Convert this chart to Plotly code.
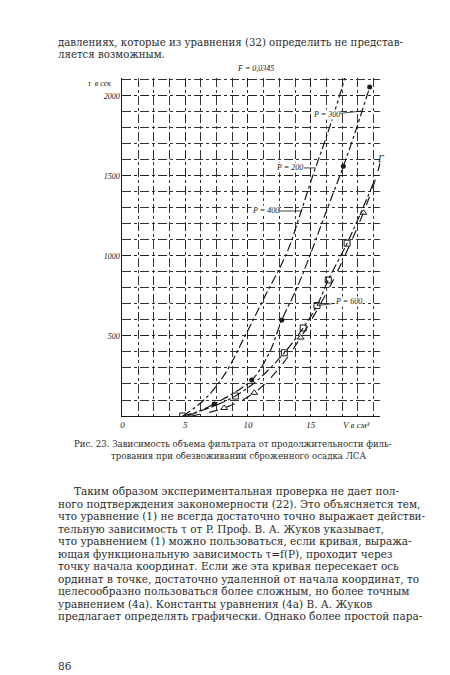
import plotly.graph_objects as go

W, H = 450, 675

# ---- data ----
A_V = [4.8, 6.5, 8.1, 9.7, 11.3, 13.1, 14.2, 15.2, 16.1, 17.0, 17.9]
A_t = [0, 100, 255, 490, 740, 1020, 1270, 1510, 1710, 1925, 2160]

B_V = [5.2, 7.3, 10.3, 11.7, 12.7, 13.9, 14.8, 16.2, 17.6, 18.7, 19.7]
B_t = [0, 75, 225, 395, 600, 800, 975, 1270, 1560, 1810, 2055]
B_mV = [7.3, 10.3, 12.7, 17.6, 19.7]
B_mt = [75, 225, 600, 1560, 2055]

C_V = [5.5, 8.1, 10.5, 12.5, 14.2, 15.6, 16.8, 18.0, 19.2, 20.2, 21.0]
C_t = [0, 50, 145, 300, 490, 675, 850, 1050, 1270, 1490, 1725]
C_mV = [8.1, 10.5, 14.2, 19.2]
C_mt = [50, 145, 490, 1270]

D_V = [4.8, 6.9, 9.0, 10.7, 12.9, 14.4, 15.5, 16.4, 17.9, 19.0, 20.1]
D_t = [0, 50, 125, 220, 395, 550, 690, 850, 1080, 1270, 1475]
D_mV = [4.8, 9.0, 12.9, 14.4, 15.5, 16.4, 17.9]
D_mt = [0, 125, 395, 550, 690, 850, 1080]

x_ticks = [0, 5, 10, 15]
x_tick_text = ["0", "5", "10", "15"]
y_ticks = [500, 1000, 1500, 2000]
y_tick_text = ["500", "1000", "1500", "2000"]

top_lines = [
    "давлениях, которые из уравнения (32) определить не представ-",
    "ляется возможным.",
]
caption_lines = [
    "Рис. 23. Зависимость объема фильтрата от продолжительности филь-",
    "трования при обезвоживании сброженного осадка ЛСА",
]
body_lines = [
    "Таким образом экспериментальная проверка не дает пол-",
    "ного подтверждения закономерности (22). Это объясняется тем,",
    "что уравнение (1) не всегда достаточно точно выражает действи-",
    "тельную зависимость τ от P. Проф. В. А. Жуков указывает,",
    "что уравнением (1) можно пользоваться, если кривая, выража-",
    "ющая функциональную зависимость τ=f(P), проходит через",
    "точку начала координат. Если же эта кривая пересекает ось",
    "ординат в точке, достаточно удаленной от начала координат, то",
    "целесообразно пользоваться более сложным, но более точным",
    "уравнением (4а). Константы уравнения (4а) В. А. Жуков",
    "предлагает определять графически. Однако более простой пара-",
]
page_number = "86"

INK = "#1a1a1a"
SERIF = "Liberation Serif, DejaVu Serif, serif"
WIDE = "DejaVu Serif, serif"

fig = go.Figure()
line_style = dict(color=INK, width=1.2)
fig.add_trace(go.Scatter(x=A_V, y=A_t, mode="lines", line=dict(**line_style, dash="dashdot"), line_shape="spline"))
fig.add_trace(go.Scatter(x=B_V, y=B_t, mode="lines", line=dict(**line_style, dash="dashdot"), line_shape="spline"))
fig.add_trace(go.Scatter(x=C_V, y=C_t, mode="lines", line=dict(**line_style, dash="dash"), line_shape="spline"))
fig.add_trace(go.Scatter(x=D_V, y=D_t, mode="lines", line=dict(**line_style, dash="dashdot"), line_shape="spline"))
fig.add_trace(go.Scatter(x=B_mV, y=B_mt, mode="markers", marker=dict(symbol="circle", size=5, color=INK)))
fig.add_trace(go.Scatter(x=C_mV, y=C_mt, mode="markers", marker=dict(symbol="triangle-up-open", size=6, color=INK, line=dict(width=1))))
fig.add_trace(go.Scatter(x=D_mV, y=D_mt, mode="markers", marker=dict(symbol="square-open", size=6, color=INK, line=dict(width=1))))

x0, x1 = 113 / W, 372 / W
y0, y1 = 1 - 408 / H, 1 - 70 / H

fig.update_layout(
    width=W, height=H, autosize=False,
    margin=dict(l=0, r=0, t=0, b=0),
    paper_bgcolor="white", plot_bgcolor="white",
    showlegend=False,
    font=dict(family=SERIF, color=INK),
    xaxis=dict(domain=[x0, x1], range=[0, 20.55], tickvals=x_ticks, ticktext=x_tick_text,
               showgrid=True, gridcolor="#222", gridwidth=1, griddash="dashdot",
               minor=dict(dtick=1.25, tick0=0, showgrid=True, gridcolor="#333", gridwidth=1, griddash="dashdot"),
               showline=True, linecolor=INK, linewidth=1.2, mirror=False, ticks="",
               tickfont=dict(size=9, family=SERIF, style="italic"), zeroline=False),
    yaxis=dict(domain=[y0, y1], range=[0, 2112], tickvals=y_ticks, ticktext=y_tick_text,
               showgrid=True, gridcolor="#222", gridwidth=1, griddash="dashdot",
               minor=dict(dtick=100, tick0=0, showgrid=True, gridcolor="#333", gridwidth=1, griddash="dashdot"),
               showline=True, linecolor=INK, linewidth=1.2, mirror=False, ticks="",
               tickfont=dict(size=8, family=SERIF, style="italic"), zeroline=False),
)

def px(xp, yp):
    return xp / W, 1 - yp / H

ann = []
# chart labels
for text, (xp, yp), size in [("τ  в сек", (90, 75), 8), ("V в см³", (348, 417), 9), ("F = 0,0345", (247, 60), 8), ("Г", (372, 150), 10)]:
    xx, yy = px(xp, yp)
    ann.append(dict(text=text, x=xx, y=yy, xref="paper", yref="paper", showarrow=False,
                    font=dict(size=size, family=SERIF, style="italic"), xanchor="center", yanchor="middle"))

for text, xv, yv, ax, ay in [("P = 300", 19.1, 1906, -36, 4), ("P = 200", 15.4, 1550, -26, 0),
                               ("P = 400", 14.3, 1281, -36, 0), ("P = 600", 15.5, 690, 32, -4)]:
    ann.append(dict(text=text, x=xv, y=yv, xref="x", yref="y", showarrow=True, arrowhead=0,
                    arrowwidth=0.8, arrowcolor=INK, ax=ax, ay=ay, bgcolor="white",
                    font=dict(size=8, family=SERIF, style="italic"), borderpad=0))

# page text
def add_line(text, xp, yp, size):
    xx, yy = px(xp, yp)
    ann.append(dict(text=text, x=xx, y=yy, xref="paper", yref="paper", showarrow=False,
                    xanchor="left", yanchor="middle", borderpad=0,
                    font=dict(size=size, family=WIDE, color="#2b2b2b")))

for i, t in enumerate(top_lines):
    add_line(t, 47, 35 + i * 12, 10.2)
add_line(caption_lines[0], 63, 436, 8.6)
add_line(caption_lines[1], 100, 447.5, 8.6)
for i, t in enumerate(body_lines):
    add_line(t, 63 if i == 0 else 47, 483 + i * 12.5, 10.5)
add_line(page_number, 47, 658, 10.5)

fig.update_layout(annotations=ann)
fig.write_html("out.html")
